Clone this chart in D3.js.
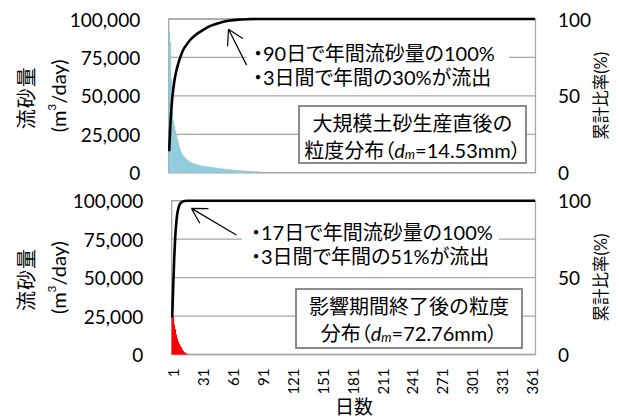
<!DOCTYPE html>
<html>
<head>
<meta charset="utf-8">
<script src="https://cdn.jsdelivr.net/npm/d3@7"></script>
<style>
  html, body { margin: 0; padding: 0; background: #fff; }
  svg { display: block; }
  text { font-family: Lato, "Noto Sans CJK JP", sans-serif; fill: #000; }
  .palt { font-feature-settings: "palt"; }
</style>
</head>
<body>
<svg id="chart" width="619" height="419"></svg>
<script>
// ---- data ---------------------------------------------------------------
// day categories of one year
const days = d3.range(1, 366);
const dayTicks = [1, 31, 61, 91, 121, 151, 181, 211, 241, 271, 301, 331, 361];
const flowTicks = [0, 25000, 50000, 75000, 100000];
const ratioTicks = [0, 50, 100];

// daily sediment discharge (m3/day), from day 1; remaining days are 0
const flowBefore = [
  92000, 85000, 61000, 40000, 34000, 30500, 27500, 25000, 22000, 19500,
  17000, 15000, 13200, 12000, 11000, 10200, 9500, 8900, 8300, 7800,
  7300, 6900, 6600, 6300, 6000, 5800, 5600, 5400, 5200, 5050,
  4900, 4750, 4650, 4550, 4450, 4350, 4250, 4150, 4050, 3950,
  3850, 3750, 3650, 3550, 3450, 3350, 3250, 3150, 3050, 2950,
  2880, 2800, 2720, 2640, 2560, 2480, 2400, 2320, 2250, 2180,
  2110, 2050, 1990, 1930, 1870, 1810, 1750, 1700, 1650, 1600,
  1550, 1500, 1450, 1400, 1350, 1300, 1250, 1200, 1160, 1120,
  1080, 1040, 1000, 960, 920, 880, 840, 800, 760, 720, 680
];
const flowAfter = [
  26500, 24000, 19500, 16500, 13000, 10500, 8300, 6800, 5500, 4500,
  3300, 2300, 1600, 1000, 600, 300, 100
];

// cumulative ratio (%) as [day, percent]
const cumBefore = [
  [1, 14], [2, 29], [3, 40], [4, 48], [5, 54], [6, 59], [8, 66], [10, 71],
  [12, 75], [15, 80], [18, 83], [22, 86.5], [26, 89], [30, 91], [35, 93],
  [42, 95.5], [50, 97.3], [60, 98.8], [70, 99.6], [80, 99.9], [90, 100], [365, 100]
];
const cumAfter = [
  [1, 24], [2, 44], [3, 62], [4, 76], [5, 85], [6, 91], [7, 94.5], [8, 96.8],
  [10, 98.8], [13, 99.8], [17, 100], [365, 100]
];

const notesBefore = ["・90日で年間流砂量の100%", "・3日間で年間の30%が流出"];
const notesAfter  = ["・17日で年間流砂量の100%", "・3日間で年間の51%が流出"];
const boxBefore = { line1: "大規模土砂生産直後の", lead: "粒度分布", dm: "14.53" };
const boxAfter  = { line1: "影響期間終了後の粒度", lead: "分布", dm: "72.76" };

// arrow tip / tail in [day, percent]
const arrowBefore = { tip: [60, 93.3], tail: [78, 70] };
const arrowAfter  = { tip: [20.3, 95], tail: [65.4, 77.7] };

// ---- layout -------------------------------------------------------------
const panels = [
  { flow: flowBefore, cum: cumBefore, color: "#93cddd", notes: notesBefore, box: boxBefore, arrow: arrowBefore,
    left: 168.7, right: 535.5, top: 19, bottom: 172.7,
    noteX: 253, noteY: 53, noteBg: [247, 39, 509, 89], boxRect: [299, 106, 526, 163], showDays: false },
  { flow: flowAfter, cum: cumAfter, color: "#ff0000", notes: notesAfter, box: boxAfter, arrow: arrowAfter,
    left: 171.7, right: 535.5, top: 200.7, bottom: 354.5,
    noteX: 251, noteY: 232, noteBg: [242, 218, 499, 268], boxRect: [296, 289, 522, 348], showDays: true }
];

const svg = d3.select("#chart");
svg.append("rect").attr("width", 619).attr("height", 419).attr("fill", "#fff");

const fmt = d3.format(",");
const gridColor = "#a6a6a6";

panels.forEach(p => {
  const x = d3.scaleBand().domain(days).range([p.left, p.right]).padding(0);
  const bw = x.bandwidth();
  // centre of a (possibly fractional) day position
  const cx = d => p.left + (d - 0.5) * bw;
  const yFlow = d3.scaleLinear().domain([0, 100000]).range([p.bottom, p.top]);
  const yPct = d3.scaleLinear().domain([0, 100]).range([p.bottom, p.top]);
  const g = svg.append("g");

  // horizontal gridlines
  g.selectAll("line.grid").data(flowTicks).join("line").attr("class", "grid")
    .attr("x1", p.left).attr("x2", p.right)
    .attr("y1", d => yFlow(d)).attr("y2", d => yFlow(d))
    .attr("stroke", gridColor).attr("stroke-width", 1.3);

  // plot frame
  g.append("rect").attr("x", p.left).attr("y", p.top)
    .attr("width", p.right - p.left).attr("height", p.bottom - p.top)
    .attr("fill", "none").attr("stroke", gridColor).attr("stroke-width", 1.3);

  // daily discharge bars
  g.selectAll("rect.bar").data(p.flow).join("rect").attr("class", "bar")
    .attr("x", (v, i) => x(days[i]))
    .attr("width", bw + 0.4)
    .attr("y", v => yFlow(v))
    .attr("height", v => p.bottom - yFlow(v))
    .attr("fill", p.color);

  // cumulative ratio curve
  const line = d3.line().x(d => cx(d[0])).y(d => yPct(d[1])).curve(d3.curveMonotoneX);
  g.append("path").datum(p.cum).attr("d", line)
    .attr("fill", "none").attr("stroke", "#000").attr("stroke-width", 2.6)
    .attr("stroke-linejoin", "round");

  // left axis labels
  g.selectAll("text.yl").data(flowTicks).join("text").attr("class", "yl")
    .attr("x", p.left - 28.5).attr("y", d => yFlow(d))
    .attr("text-anchor", "end").attr("dominant-baseline", "central")
    .attr("font-size", 19).attr("fill", "#000").text(d => fmt(d));

  // right axis labels
  g.selectAll("text.yr").data(ratioTicks).join("text").attr("class", "yr")
    .attr("x", 558).attr("y", d => yPct(d))
    .attr("dominant-baseline", "central")
    .attr("font-size", 19).attr("fill", "#000").text(d => d);

  const midY = (p.top + p.bottom) / 2;

  // left axis title
  g.append("g").attr("transform", `translate(26,${midY + 2}) rotate(-90)`)
    .append("text").attr("text-anchor", "middle").attr("dominant-baseline", "central")
    .attr("font-size", 20).attr("letter-spacing", 1).text("流砂量");
  const utt = g.append("g").attr("transform", `translate(58,${midY}) rotate(-90)`)
    .append("text").attr("text-anchor", "middle").attr("dominant-baseline", "central")
    .attr("font-size", 20);
  utt.append("tspan").text("(m");
  utt.append("tspan").attr("font-size", 12).attr("dy", -7).text("3");
  utt.append("tspan").attr("dy", 7).text("/day)");

  // right axis title
  g.append("g").attr("transform", `translate(601,${midY}) rotate(-90)`)
    .append("text").attr("text-anchor", "middle").attr("dominant-baseline", "central")
    .attr("font-size", 16.5).attr("fill", "#000").text("累計比率(%)");

  // note with white background
  g.append("rect").attr("x", p.noteBg[0]).attr("y", p.noteBg[1])
    .attr("width", p.noteBg[2] - p.noteBg[0]).attr("height", p.noteBg[3] - p.noteBg[1])
    .attr("fill", "#fff");
  g.selectAll("text.note").data(p.notes).join("text").attr("class", "note palt")
    .attr("x", p.noteX).attr("y", (s, i) => p.noteY + i * 24)
    .attr("dominant-baseline", "central").attr("font-size", 20)
    .text(s => s);

  // arrow from note to curve
  const tip = [cx(p.arrow.tip[0]), yPct(p.arrow.tip[1])];
  const tail = [cx(p.arrow.tail[0]), yPct(p.arrow.tail[1])];
  const ang = Math.atan2(tail[1] - tip[1], tail[0] - tip[0]);
  const headLen = 17, spread = 30 * Math.PI / 180;
  const arrowPath = d3.path();
  arrowPath.moveTo(tail[0], tail[1]);
  arrowPath.lineTo(tip[0], tip[1]);
  [ang - spread, ang + spread].forEach(a => {
    arrowPath.moveTo(tip[0], tip[1]);
    arrowPath.lineTo(tip[0] + headLen * Math.cos(a), tip[1] + headLen * Math.sin(a));
  });
  g.append("path").attr("d", arrowPath.toString())
    .attr("fill", "none").attr("stroke", "#000").attr("stroke-width", 1.2);

  // grain size label box
  const [bx0, by0, bx1, by1] = p.boxRect;
  g.append("rect").attr("x", bx0).attr("y", by0).attr("width", bx1 - bx0).attr("height", by1 - by0)
    .attr("fill", "#fff").attr("stroke", "#7f7f7f").attr("stroke-width", 1.8);
  const bcx = (bx0 + bx1) / 2;
  g.append("text").attr("x", bcx).attr("y", by0 + 17).attr("text-anchor", "middle")
    .attr("dominant-baseline", "central").attr("font-size", 20).text(p.box.line1);
  const l2 = g.append("text").attr("class", "palt").attr("x", bcx).attr("y", by0 + 44)
    .attr("text-anchor", "middle").attr("dominant-baseline", "central").attr("font-size", 20);
  l2.append("tspan").text(p.box.lead + "（");
  l2.append("tspan").attr("font-style", "italic").text("d");
  l2.append("tspan").attr("font-style", "italic").attr("font-size", 13).attr("dy", 4).text("m");
  l2.append("tspan").attr("dy", -4).text("=" + p.box.dm + "mm）");

  // day labels under the lower panel
  if (p.showDays) {
    g.selectAll("text.xl").data(dayTicks).join("text").attr("class", "xl")
      .attr("transform", d => `translate(${x(d) + bw / 2 + 1},${p.bottom + 14}) rotate(-90)`)
      .attr("text-anchor", "end").attr("dominant-baseline", "central")
      .attr("font-size", 15).text(d => d);
    g.append("text").attr("x", 354).attr("y", 406).attr("text-anchor", "middle")
      .attr("dominant-baseline", "central").attr("font-size", 19).text("日数");
  }
});
</script>
</body>
</html>
